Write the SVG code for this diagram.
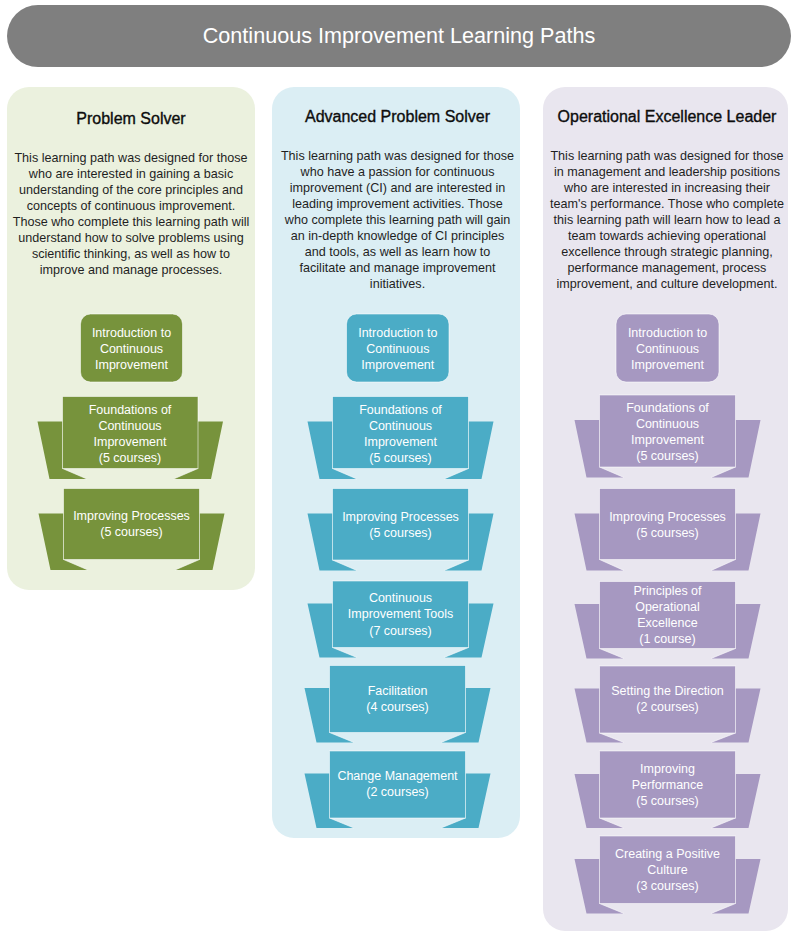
<svg xmlns="http://www.w3.org/2000/svg" width="800" height="936" viewBox="0 0 800 936">
<style>
text{font-family:"Liberation Sans",Arial,sans-serif;text-anchor:middle}
.title{font-size:21.6px;fill:#ffffff}
.hdr{font-size:16px;fill:#0d0d0d;stroke:#0d0d0d;stroke-width:0.35}
.body{font-size:12.6px;fill:#1f1f1f}
.nt{font-size:12.5px;fill:#ffffff}
.g{fill:#77933c}
.b{fill:#4bacc6}
.p{fill:#a698c1}
.edge{stroke:#ffffff;stroke-opacity:0.55;stroke-width:1}
.fold{stroke:#ffffff;stroke-opacity:0.6;stroke-width:1;fill:none}
</style>
<rect x="0" y="0" width="800" height="936" fill="#ffffff"/>
<g id="title">
<rect x="7" y="5" width="784" height="62" rx="31" fill="#7f7f7f"/>
<text class="title" x="399" y="43">Continuous Improvement Learning Paths</text>
</g>

<g id="col-problem-solver">
<rect x="7" y="87" width="248" height="503" rx="22" fill="#ebf1de"/>
<text class="hdr" x="131" y="124">Problem Solver</text>
<text class="body" x="131" y="162.2">This learning path was designed for those</text>
<text class="body" x="131" y="178.2">who are interested in gaining a basic</text>
<text class="body" x="131" y="194.2">understanding of the core principles and</text>
<text class="body" x="131" y="210.2">concepts of continuous improvement.</text>
<text class="body" x="131" y="226.2">Those who complete this learning path will</text>
<text class="body" x="131" y="242.2">understand how to solve problems using</text>
<text class="body" x="131" y="258.2">scientific thinking, as well as how to</text>
<text class="body" x="131" y="274.2">improve and manage processes.</text>
</g>

<g id="col-advanced">
<rect x="272" y="87" width="248" height="751" rx="22" fill="#dbeef4"/>
<text class="hdr" x="397.5" y="122">Advanced Problem Solver</text>
<text class="body" x="397.5" y="160.2">This learning path was designed for those</text>
<text class="body" x="397.5" y="176.2">who have a passion for continuous</text>
<text class="body" x="397.5" y="192.1">improvement (CI) and are interested in</text>
<text class="body" x="397.5" y="208.1">leading improvement activities. Those</text>
<text class="body" x="397.5" y="224">who complete this learning path will gain</text>
<text class="body" x="397.5" y="240">an in-depth knowledge of CI principles</text>
<text class="body" x="397.5" y="256">and tools, as well as learn how to</text>
<text class="body" x="397.5" y="271.9">facilitate and manage improvement</text>
<text class="body" x="397.5" y="287.8">initiatives.</text>
</g>

<g id="col-opex">
<rect x="543" y="87" width="245" height="844" rx="22" fill="#e9e6ef"/>
<text class="hdr" x="667" y="122">Operational Excellence Leader</text>
<text class="body" x="667" y="160.2">This learning path was designed for those</text>
<text class="body" x="667" y="176.2">in management and leadership positions</text>
<text class="body" x="667" y="192.1">who are interested in increasing their</text>
<text class="body" x="667" y="208.1">team's performance. Those who complete</text>
<text class="body" x="667" y="224">this learning path will learn how to lead a</text>
<text class="body" x="667" y="240">team towards achieving operational</text>
<text class="body" x="667" y="256">excellence through strategic planning,</text>
<text class="body" x="667" y="271.9">performance management, process</text>
<text class="body" x="667" y="287.8">improvement, and culture development.</text>
</g>

<g id="connectors"></g>

<!-- Green nodes -->
<g id="g1">
<rect class="g edge" x="80.5" y="314" width="102" height="68" rx="10"/>
<text class="nt" x="131.5" y="336.8">Introduction to</text>
<text class="nt" x="131.5" y="352.8">Continuous</text>
<text class="nt" x="131.5" y="368.8">Improvement</text>
</g>
<g id="g2">
<polygon class="g" points="37.5,421.5 62.5,421.5 62.5,468.5 87,479 49.5,479"/>
<polygon class="g" points="223,421.5 198,421.5 198,468.5 173.5,479 211,479"/>
<path class="fold" d="M62.5 468.5L87 479M198 468.5L173.5 479"/>
<rect class="g edge" x="62.5" y="396.5" width="135.5" height="72"/>
<text class="nt" x="130" y="413.5">Foundations of</text>
<text class="nt" x="130" y="429.5">Continuous</text>
<text class="nt" x="130" y="445.5">Improvement</text>
<text class="nt" x="130" y="461.5">(5 courses)</text>
</g>
<g id="g3">
<polygon class="g" points="38.5,513.5 63.5,513.5 63.5,559.5 88,570 50.5,570"/>
<polygon class="g" points="224.5,513.5 199.5,513.5 199.5,559.5 175,570 212.5,570"/>
<path class="fold" d="M63.5 559.5L88 570M199.5 559.5L175 570"/>
<rect class="g edge" x="63.5" y="488.5" width="136" height="71"/>
<text class="nt" x="131.5" y="520.2">Improving Processes</text>
<text class="nt" x="131.5" y="536.2">(5 courses)</text>
</g>

<!-- Blue nodes -->
<g id="b1">
<rect class="b edge" x="346.5" y="314" width="102.5" height="68" rx="10"/>
<text class="nt" x="397.8" y="336.8">Introduction to</text>
<text class="nt" x="397.8" y="352.8">Continuous</text>
<text class="nt" x="397.8" y="368.8">Improvement</text>
</g>
<g id="b2">
<polygon class="b" points="307.5,421.5 332.5,421.5 332.5,468.5 357,479 319.5,479"/>
<polygon class="b" points="493.5,421.5 468.5,421.5 468.5,468.5 444,479 481.5,479"/>
<path class="fold" d="M332.5 468.5L357 479M468.5 468.5L444 479"/>
<rect class="b edge" x="332.5" y="396.5" width="136" height="72"/>
<text class="nt" x="400.5" y="413.5">Foundations of</text>
<text class="nt" x="400.5" y="429.5">Continuous</text>
<text class="nt" x="400.5" y="445.5">Improvement</text>
<text class="nt" x="400.5" y="461.5">(5 courses)</text>
</g>
<g id="b3">
<polygon class="b" points="307.5,513.5 332.5,513.5 332.5,560 357,570.5 319.5,570.5"/>
<polygon class="b" points="493.5,513.5 468.5,513.5 468.5,560 444,570.5 481.5,570.5"/>
<path class="fold" d="M332.5 560L357 570.5M468.5 560L444 570.5"/>
<rect class="b edge" x="332.5" y="488.5" width="136" height="71.5"/>
<text class="nt" x="400.5" y="521">Improving Processes</text>
<text class="nt" x="400.5" y="537">(5 courses)</text>
</g>
<g id="b4">
<polygon class="b" points="307.5,603.5 332.5,603.5 332.5,647.5 357,657.5 319.5,657.5"/>
<polygon class="b" points="493.5,603.5 468.5,603.5 468.5,647.5 444,657.5 481.5,657.5"/>
<path class="fold" d="M332.5 647.5L357 657.5M468.5 647.5L444 657.5"/>
<rect class="b edge" x="332.5" y="581" width="136" height="66.5"/>
<text class="nt" x="400.5" y="602.2">Continuous</text>
<text class="nt" x="400.5" y="618.2">Improvement Tools</text>
<text class="nt" x="400.5" y="634.5">(7 courses)</text>
</g>
<g id="b5">
<polygon class="b" points="304.5,688 329.5,688 329.5,732.5 354,742.5 316.5,742.5"/>
<polygon class="b" points="490.5,688 465.5,688 465.5,732.5 441,742.5 478.5,742.5"/>
<path class="fold" d="M329.5 732.5L354 742.5M465.5 732.5L441 742.5"/>
<rect class="b edge" x="329.5" y="665.5" width="136" height="67"/>
<text class="nt" x="397.5" y="695.2">Facilitation</text>
<text class="nt" x="397.5" y="711.2">(4 courses)</text>
</g>
<g id="b6">
<polygon class="b" points="304.5,773.5 329.5,773.5 329.5,818 354,828 316.5,828"/>
<polygon class="b" points="490.5,773.5 465.5,773.5 465.5,818 441,828 478.5,828"/>
<path class="fold" d="M329.5 818L354 828M465.5 818L441 828"/>
<rect class="b edge" x="329.5" y="751" width="136" height="67"/>
<text class="nt" x="397.5" y="780.2">Change Management</text>
<text class="nt" x="397.5" y="796.2">(2 courses)</text>
</g>

<!-- Purple nodes -->
<g id="p1">
<rect class="p edge" x="616" y="314" width="103" height="68" rx="10"/>
<text class="nt" x="667.5" y="336.8">Introduction to</text>
<text class="nt" x="667.5" y="352.8">Continuous</text>
<text class="nt" x="667.5" y="368.8">Improvement</text>
</g>
<g id="p2">
<polygon class="p" points="574.5,420 599.5,420 599.5,467 624,477.5 586.5,477.5"/>
<polygon class="p" points="760.5,420 735.5,420 735.5,467 711,477.5 748.5,477.5"/>
<path class="fold" d="M599.5 467L624 477.5M735.5 467L711 477.5"/>
<rect class="p edge" x="599.5" y="395" width="136" height="72"/>
<text class="nt" x="667.5" y="411.8">Foundations of</text>
<text class="nt" x="667.5" y="427.8">Continuous</text>
<text class="nt" x="667.5" y="443.8">Improvement</text>
<text class="nt" x="667.5" y="459.8">(5 courses)</text>
</g>
<g id="p3">
<polygon class="p" points="574.5,513.5 599.5,513.5 599.5,559.5 624,570.5 586.5,570.5"/>
<polygon class="p" points="760.5,513.5 735.5,513.5 735.5,559.5 711,570.5 748.5,570.5"/>
<path class="fold" d="M599.5 559.5L624 570.5M735.5 559.5L711 570.5"/>
<rect class="p edge" x="599.5" y="488.5" width="136" height="71"/>
<text class="nt" x="667.5" y="520.5">Improving Processes</text>
<text class="nt" x="667.5" y="536.5">(5 courses)</text>
</g>
<g id="p4">
<polygon class="p" points="574.5,604 599.5,604 599.5,648.5 624,658.5 586.5,658.5"/>
<polygon class="p" points="760.5,604 735.5,604 735.5,648.5 711,658.5 748.5,658.5"/>
<path class="fold" d="M599.5 648.5L624 658.5M735.5 648.5L711 658.5"/>
<rect class="p edge" x="599.5" y="581.5" width="136" height="67"/>
<text class="nt" x="667.5" y="595.2">Principles of</text>
<text class="nt" x="667.5" y="611.2">Operational</text>
<text class="nt" x="667.5" y="627.2">Excellence</text>
<text class="nt" x="667.5" y="643.2">(1 course)</text>
</g>
<g id="p5">
<polygon class="p" points="574.5,688.5 599.5,688.5 599.5,733 624,742.5 586.5,742.5"/>
<polygon class="p" points="760.5,688.5 735.5,688.5 735.5,733 711,742.5 748.5,742.5"/>
<path class="fold" d="M599.5 733L624 742.5M735.5 733L711 742.5"/>
<rect class="p edge" x="599.5" y="666" width="136" height="67"/>
<text class="nt" x="667.5" y="695.2">Setting the Direction</text>
<text class="nt" x="667.5" y="711.2">(2 courses)</text>
</g>
<g id="p6">
<polygon class="p" points="574.5,774 599.5,774 599.5,818 624,828 586.5,828"/>
<polygon class="p" points="760.5,774 735.5,774 735.5,818 711,828 748.5,828"/>
<path class="fold" d="M599.5 818L624 828M735.5 818L711 828"/>
<rect class="p edge" x="599.5" y="751" width="136" height="67"/>
<text class="nt" x="667.5" y="772.8">Improving</text>
<text class="nt" x="667.5" y="788.8">Performance</text>
<text class="nt" x="667.5" y="804.8">(5 courses)</text>
</g>
<g id="p7">
<polygon class="p" points="574.5,859 599.5,859 599.5,903.5 624,913.5 586.5,913.5"/>
<polygon class="p" points="760.5,859 735.5,859 735.5,903.5 711,913.5 748.5,913.5"/>
<path class="fold" d="M599.5 903.5L624 913.5M735.5 903.5L711 913.5"/>
<rect class="p edge" x="599.5" y="836" width="136" height="67.5"/>
<text class="nt" x="667.5" y="857.8">Creating a Positive</text>
<text class="nt" x="667.5" y="873.8">Culture</text>
<text class="nt" x="667.5" y="889.8">(3 courses)</text>
</g>
</svg>
